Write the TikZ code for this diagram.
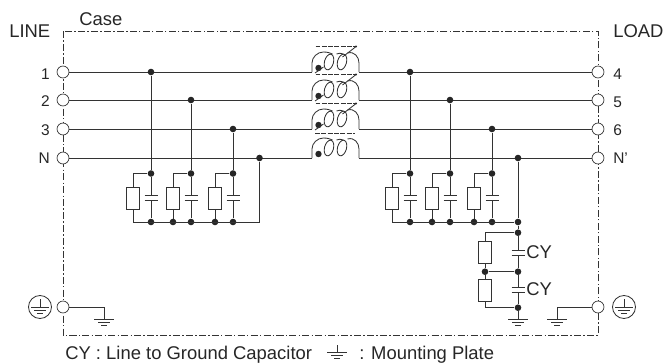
\documentclass[tikz,border=0pt]{standalone}
\usepackage{fontspec}
\setmainfont{Liberation Sans}
\usetikzlibrary{positioning}

\tikzset{
  wire/.style={line width=0.6pt, black!80},
  term/.style={circle, draw=black!80, line width=0.5pt, fill=white, minimum size=8.5pt, inner sep=0pt},
  junc/.style={circle, fill=black!85, minimum size=4.7pt, inner sep=0pt},
  res/.style={rectangle, draw=black!80, line width=0.6pt, fill=white, minimum width=9pt, minimum height=15.6pt, inner sep=0pt},
  lbl/.style={inner sep=0pt, font=\fontsize{11}{12}\selectfont, text=black!85},
  big/.style={inner sep=0pt, font=\fontsize{13.1}{14}\selectfont, text=black!85},
  cap/.pic={
    \coordinate (-top) at (0,-2.5);
    \coordinate (-bot) at (0,2.5);
    \draw[wire] (-6.5,-2.5) -- (6.5,-2.5);
    \draw[wire] (-6.5,2.5) -- (6.5,2.5);
  },
  gnd/.pic={
    \coordinate (-top) at (0,0);
    \draw[wire] (-10,0) -- (10,0);
    \draw[wire] (-6,3) -- (6,3);
    \draw[wire] (-3,6) -- (3,6);
  },
  earth/.pic={
    \draw[wire] (0,0) circle (11.5);
    \draw[wire] (0,-8) -- (0,0);
    \draw[wire] (-9,0) -- (9,0);
    \draw[wire] (-6,3) -- (6,3);
    \draw[wire] (-3,6) -- (3,6);
  },
  winding/.pic={
    \coordinate (-in) at (-23.5,0);
    \coordinate (-out) at (23.5,0);
    \draw[wire] (-23.5,0) -- (-23.5,-9) .. controls (-23.5,-15) and (-18,-20) .. (-12,-20)
      .. controls (-8,-20) and (-5,-19) .. (-3,-18);
    \draw[wire] (1,-18) .. controls (3,-19) and (5,-19) .. (8,-18);
    \draw[wire] (12,-19) .. controls (19,-21) and (23.5,-15) .. (23.5,-9) -- (23.5,0);
    \draw[wire, rotate around={-15:(-6.5,-10)}] (-6.5,-10) ellipse (4.5 and 8);
    \draw[wire, rotate around={-15:(6.5,-10)}] (6.5,-10) ellipse (4.5 and 8);
    \fill[black!85] (-17,-4) circle (3.2);
  },
  core/.pic={
    \draw[wire, dash pattern=on 3.5pt off 1pt] (-20,-25.5) -- (19,-25.5);
    \fill[black!85] (20.5,-25.5) circle (1.2);
    \draw[wire] (-20.5,1) -- (-12,-5);
    \draw[wire] (7,-15) -- (20,-25);
  },
}

\begin{document}
\begin{tikzpicture}[x=0.025cm, y=-0.025cm]
  \useasboundingbox (0,0) rectangle (664,362);

  % case
  \draw[wire, dash pattern=on 5pt off 1.6pt on 1pt off 1.6pt] (63,31) rectangle (598,335);
  \node[big, anchor=base west] (case) at (79,25) {Case};
  \node[big, anchor=base west] (line) at (9,37.5) {LINE};
  \node[big, anchor=base west] (load) at (613,37) {LOAD};

  % terminals
  \node[term] (t1) at (63,72) {};
  \node[term] (t2) at (63,100) {};
  \node[term] (t3) at (63,129) {};
  \node[term] (tn) at (63,158) {};
  \node[term] (tg) at (63,307) {};
  \node[term] (r4) at (598,72) {};
  \node[term] (r5) at (598,100) {};
  \node[term] (r6) at (598,129) {};
  \node[term] (rn) at (598,158) {};
  \node[term] (rg) at (598,307) {};

  \node[lbl, anchor=east] (l1) at (50,74) {1};
  \node[lbl, anchor=east] (l2) at (50,101) {2};
  \node[lbl, anchor=east] (l3) at (50,130) {3};
  \node[lbl, anchor=east] (ln) at (50,158) {N};
  \node[lbl, anchor=west] (l4) at (613,74) {4};
  \node[lbl, anchor=west] (l5) at (613,102) {5};
  \node[lbl, anchor=west] (l6) at (613,130) {6};
  \node[lbl, anchor=west] (lnp) at (613,158) {N'};

  % windings
  \pic (w1) at (335.5,72) {winding};
  \pic (w2) at (335.5,100) {winding};
  \pic (w3) at (335.5,129) {winding};
  \pic (w4) at (335.5,158) {winding};
  \pic at (335.5,72) {core};
  \pic at (335.5,100) {core};
  \pic at (335.5,129) {core};
  \draw[wire, dash pattern=on 3.5pt off 1pt] (315,133.5) -- (355,133.5);

  \draw[wire] (t1) -- (w1-in) (w1-out) -- (r4);
  \draw[wire] (t2) -- (w2-in) (w2-out) -- (r5);
  \draw[wire] (t3) -- (w3-in) (w3-out) -- (r6);
  \draw[wire] (tn) -- (w4-in) (w4-out) -- (rn);

  % line side
  \foreach \nm/\cx/\rx/\ly in {a/151/133/72, b/191/173/100, c/233/215/129} {
    \node[junc] (\nm l) at (\cx,\ly) {};
    \node[junc] (\nm t) at (\cx,173.5) {};
    \node[junc] (\nm b) at (\cx,222) {};
    \coordinate (\nm p) at (\rx,173.5);
    \coordinate (\nm q) at (\rx,222);
    \node[res] (\nm r) at (\rx,198) {};
    \pic (\nm c) at (\cx,197.5) {cap};
    \draw[wire] (\nm l) -- (\nm t) -- (\nm c-top) (\nm c-bot) -- (\nm b);
    \draw[wire] (\nm t) -- (\nm p) -- (\nm r) -- (\nm q);
  }
  \node[junc] (br) at (173,222) {};
  \node[junc] (cr) at (215,222) {};
  \node[junc] (nl) at (259.5,158) {};
  \coordinate (nc) at (259.5,222);
  \draw[wire] (nl) -- (nc) -- (aq);

  % load side
  \foreach \nm/\cx/\rx/\ly in {d/410/392/72, e/450/432/100, f/492/474/129} {
    \node[junc] (\nm l) at (\cx,\ly) {};
    \node[junc] (\nm t) at (\cx,173.5) {};
    \node[junc] (\nm b) at (\cx,222) {};
    \coordinate (\nm p) at (\rx,173.5);
    \coordinate (\nm q) at (\rx,222);
    \node[res] (\nm r) at (\rx,198) {};
    \pic (\nm c) at (\cx,197.5) {cap};
    \draw[wire] (\nm l) -- (\nm t) -- (\nm c-top) (\nm c-bot) -- (\nm b);
    \draw[wire] (\nm t) -- (\nm p) -- (\nm r) -- (\nm q);
  }
  \node[junc] (er) at (432,222) {};
  \node[junc] (fr) at (474,222) {};
  \node[junc] (nr) at (518,158) {};
  \node[junc] (nb) at (518,222) {};
  \draw[wire] (nr) -- (nb) -- (dq);

  % line to ground
  \node[junc] (y1) at (518,232.7) {};
  \node[junc] (y2) at (518,271.7) {};
  \node[junc] (y3) at (518,307.7) {};
  \node[junc] (ym) at (485,271.7) {};
  \node[res] (yr1) at (485,252.3) {};
  \node[res] (yr2) at (485,290) {};
  \coordinate (yp) at (485,232.7);
  \coordinate (yq) at (485,307.7);
  \pic (yc1) at (518,252.5) {cap};
  \pic (yc2) at (518,289.5) {cap};
  \node[big, anchor=base west] (cy1) at (526,258) {CY};
  \node[big, anchor=base west] (cy2) at (526,295.5) {CY};
  \pic (g1) at (518,319) {gnd};
  \draw[wire] (nb) -- (y1) -- (yc1-top) (yc1-bot) -- (y2) -- (yc2-top) (yc2-bot) -- (y3) -- (g1-top);
  \draw[wire] (y1) -- (yp) -- (yr1) -- (ym) -- (yr2) -- (yq) -- (y3);
  \draw[wire] (ym) -- (y2);

  % grounds
  \pic (g2) at (104,319) {gnd};
  \pic (g3) at (557,319) {gnd};
  \coordinate (g2c) at (104,307);
  \coordinate (g3c) at (557,307);
  \draw[wire] (tg) -- (g2c) -- (g2-top);
  \draw[wire] (rg) -- (g3c) -- (g3-top);
  \pic at (40,307) {earth};
  \pic at (624,307) {earth};

  % legend
  \node[big, anchor=base west] (leg1) at (65,359) {CY : Line to Ground Capacitor};
  \pic at (337,352) {gnd};
  \draw[wire] (337,345) -- (337,352);
  \node[big, anchor=base west] (leg2) at (359,359) {: Mounting Plate};
\end{tikzpicture}
\end{document}
